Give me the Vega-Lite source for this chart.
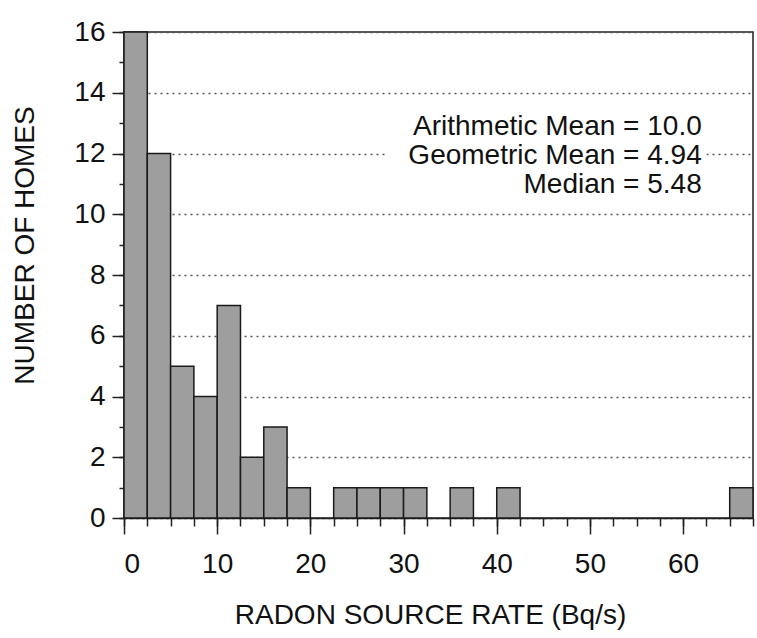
{
  "$schema": "https://vega.github.io/schema/vega-lite/v6.json",
  "width": 629,
  "height": 486,
  "autosize": "none",
  "padding": {"left": 124, "top": 32, "right": 4, "bottom": 120},
  "background": "white",
  "config": {
    "view": {"stroke": "#222", "strokeWidth": 1.5},
    "font": "Liberation Sans"
  },
  "datasets": {
    "bins": [
      {"start": 0, "end": 2.5, "count": 16},
      {"start": 2.5, "end": 5, "count": 12},
      {"start": 5, "end": 7.5, "count": 5},
      {"start": 7.5, "end": 10, "count": 4},
      {"start": 10, "end": 12.5, "count": 7},
      {"start": 12.5, "end": 15, "count": 2},
      {"start": 15, "end": 17.5, "count": 3},
      {"start": 17.5, "end": 20, "count": 1},
      {"start": 22.5, "end": 25, "count": 1},
      {"start": 25, "end": 27.5, "count": 1},
      {"start": 27.5, "end": 30, "count": 1},
      {"start": 30, "end": 32.5, "count": 1},
      {"start": 35, "end": 37.5, "count": 1},
      {"start": 40, "end": 42.5, "count": 1},
      {"start": 65, "end": 67.5, "count": 1}
    ]
  },
  "layer": [
    {
      "data": {"name": "bins"},
      "mark": {"type": "rect", "fill": "#9e9e9e", "stroke": "#1a1a1a", "strokeWidth": 1.5},
      "encoding": {
        "x": {
          "field": "start", "type": "quantitative",
          "scale": {"domain": [0, 67.5], "nice": false, "zero": false},
          "axis": {
            "orient": "bottom",
            "values": [0, 10, 20, 30, 40, 50, 60],
            "tickSize": 16, "tickWidth": 1.5, "tickColor": "#222",
            "domainColor": "#222", "domainWidth": 1.5,
            "labelFontSize": 28, "labelColor": "#111", "labelPadding": 16,
            "grid": false,
            "title": "RADON SOURCE RATE (Bq/s)",
            "titleFontSize": 28, "titleFontWeight": "normal", "titleColor": "#111",
            "titleX": 306, "titleY": 105, "titleBaseline": "alphabetic", "titleAlign": "center"
          }
        },
        "x2": {"field": "end"},
        "y": {
          "field": "count", "type": "quantitative",
          "scale": {"domain": [0, 16], "nice": false},
          "axis": {
            "orient": "left",
            "values": [0, 2, 4, 6, 8, 10, 12, 14, 16],
            "tickSize": 12, "tickWidth": 1.5, "tickColor": "#222",
            "domainColor": "#222", "domainWidth": 1.5,
            "labelFontSize": 28, "labelColor": "#111", "labelPadding": 7,
            "grid": true, "gridDash": [2, 4], "gridColor": "#555", "gridWidth": 1.5,
            "title": "NUMBER OF HOMES",
            "titleFontSize": 28, "titleFontWeight": "normal", "titleColor": "#111",
            "titleX": -99, "titleY": 213, "titleAngle": 270,
            "titleBaseline": "middle", "titleAlign": "center"
          }
        },
        "y2": {"datum": 0}
      }
    },
    {
      "data": {"values": [{}]},
      "mark": {"type": "rect", "fill": "white"},
      "encoding": {
        "x": {
          "datum": 28, "type": "quantitative",
          "scale": {"domain": [0, 67.5], "nice": false, "zero": false},
          "axis": {
            "orient": "bottom",
            "values": [0, 2.5, 5, 7.5, 10, 12.5, 15, 17.5, 20, 22.5, 25, 27.5, 30, 32.5, 35, 37.5, 40, 42.5, 45, 47.5, 50, 52.5, 55, 57.5, 60, 62.5, 65, 67.5],
            "tickSize": 8, "tickWidth": 1.5, "tickColor": "#222",
            "domain": false, "labels": false, "grid": false, "title": null
          }
        },
        "x2": {"datum": 62.5},
        "y": {
          "datum": 10.9, "type": "quantitative",
          "scale": {"domain": [0, 16], "nice": false},
          "axis": {
            "orient": "left",
            "values": [0, 1, 2, 3, 4, 5, 6, 7, 8, 9, 10, 11, 12, 13, 14, 15, 16],
            "tickSize": 5, "tickWidth": 1.5, "tickColor": "#222",
            "domain": false, "labels": false, "grid": false, "title": null
          }
        },
        "y2": {"datum": 13.3}
      }
    },
    {
      "data": {"values": [{}]},
      "mark": {"type": "text", "text": "Arithmetic Mean = 10.0", "align": "right", "baseline": "alphabetic", "fontSize": 28, "color": "#111"},
      "encoding": {
        "x": {"datum": 62.0, "type": "quantitative", "axis": null, "scale": {"domain": [0, 67.5], "nice": false, "zero": false}},
        "y": {"datum": 12.62, "type": "quantitative", "axis": null, "scale": {"domain": [0, 16], "nice": false}}
      }
    },
    {
      "data": {"values": [{}]},
      "mark": {"type": "text", "text": "Geometric Mean = 4.94", "align": "right", "baseline": "alphabetic", "fontSize": 28, "color": "#111"},
      "encoding": {
        "x": {"datum": 62.0, "type": "quantitative", "axis": null, "scale": {"domain": [0, 67.5], "nice": false, "zero": false}},
        "y": {"datum": 11.66, "type": "quantitative", "axis": null, "scale": {"domain": [0, 16], "nice": false}}
      }
    },
    {
      "data": {"values": [{}]},
      "mark": {"type": "text", "text": "Median = 5.48", "align": "right", "baseline": "alphabetic", "fontSize": 28, "color": "#111"},
      "encoding": {
        "x": {"datum": 62.0, "type": "quantitative", "axis": null, "scale": {"domain": [0, 67.5], "nice": false, "zero": false}},
        "y": {"datum": 10.7, "type": "quantitative", "axis": null, "scale": {"domain": [0, 16], "nice": false}}
      }
    }
  ],
  "resolve": {"axis": {"x": "independent", "y": "independent"}}
}
